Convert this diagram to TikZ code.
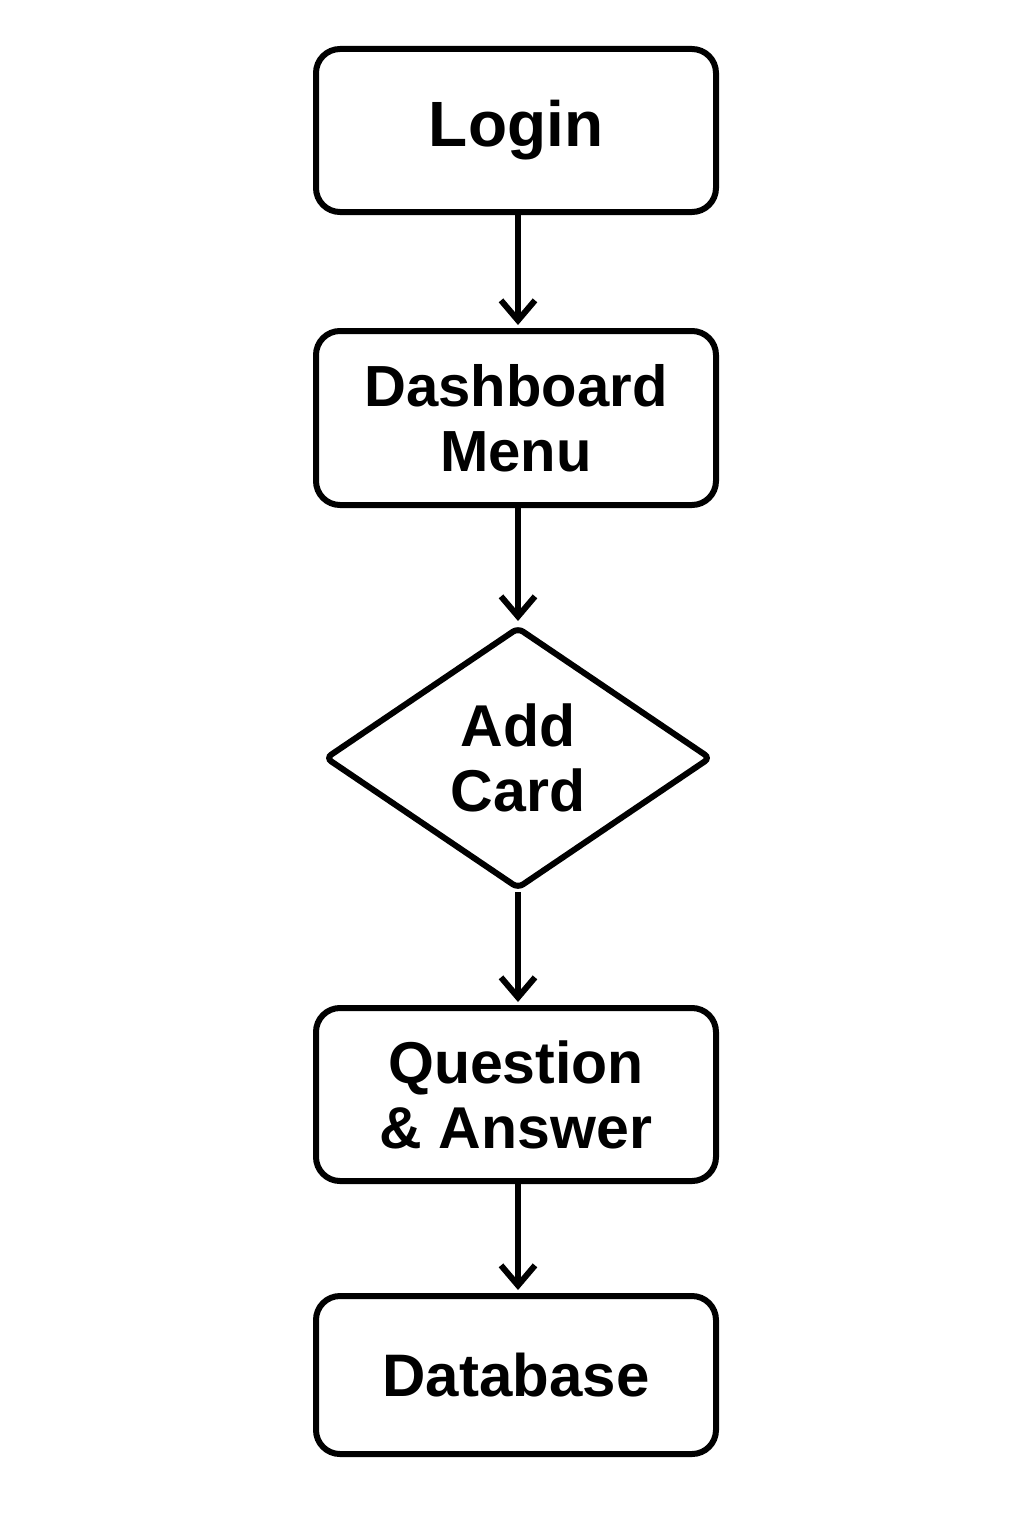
\documentclass[tikz,border=0pt]{standalone}
\usepackage{fontspec}
\setmainfont{Liberation Sans}
\usetikzlibrary{arrows.meta,shapes.geometric}
\begin{document}
\begin{tikzpicture}[x=1pt,y=-1pt,
  every node/.style={font=\bfseries\fontsize{59}{65}\selectfont, align=center, inner sep=0pt},
  box/.style={draw, line width=6pt, rounded corners=24pt, minimum width=400pt},
  decision/.style={draw, diamond, line width=6pt, rounded corners=6pt, minimum width=386pt, minimum height=262pt},
  flow/.style={line width=6pt, -{Straight Barb[length=20pt,width=34pt]}, shorten >=3pt}
]
\useasboundingbox (0,0) rectangle (1024,1536);
\node[box, minimum height=163pt, font=\bfseries\fontsize{64}{65}\selectfont] (login) at (516,130.5) {Login};
\node[box, minimum height=174pt, font=\bfseries\fontsize{58}{65}\selectfont] (dash) at (516,418) {Dashboard\\Menu};
\node[decision] (add) at (518,758) {Add\\Card};
\node[box, minimum height=173pt] (qa) at (516,1094.5) {Question\\\& Answer};
\node[box, minimum height=158pt, font=\bfseries\fontsize{60}{65}\selectfont] (db) at (516,1375) {Database};
\draw[flow] (login.south -| 518,0) -- (dash.north -| 518,0);
\draw[flow] (dash.south -| 518,0) -- (add.north);
\draw[flow] (add.south) -- (qa.north -| 518,0);
\draw[flow] (qa.south -| 518,0) -- (db.north -| 518,0);
\end{tikzpicture}
\end{document}
